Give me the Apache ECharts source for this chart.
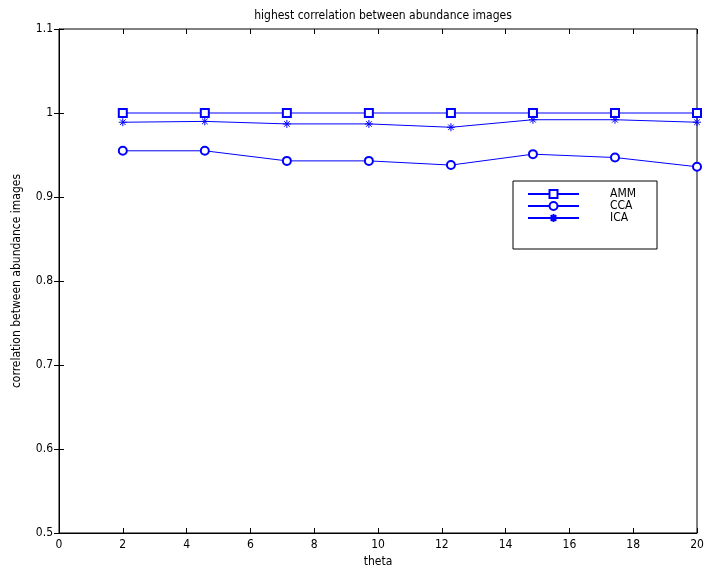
<!DOCTYPE html>
<html><head><meta charset="utf-8">
<script src="https://cdn.jsdelivr.net/npm/echarts@6/dist/echarts.min.js"></script>
<style>html,body{margin:0;padding:0;background:#fff}#c{width:707px;height:576px}</style>
</head><body><div id="c"></div>
<script>
const theta = [2, 4.571, 7.143, 9.714, 12.286, 14.857, 17.429, 20];
const amm = [1.0, 1.0, 1.0, 1.0, 1.0, 1.0, 1.0, 1.0];
const cca = [0.955, 0.955, 0.943, 0.943, 0.938, 0.951, 0.947, 0.936];
const ica = [0.989, 0.990, 0.987, 0.987, 0.983, 0.992, 0.992, 0.989];
const seriesNames = ['AMM', 'CCA', 'ICA'];
const titleText = 'highest correlation between abundance images';
const xName = 'theta';
const yName = 'correlation between abundance images';

const FONT = "'Liberation Sans Narrow','DejaVu Sans Condensed','Liberation Sans',sans-serif";
const BLUE = '#0000ff';
const star = 'path://M5 0 L5 10 M0 5 L10 5 M1.5 1.5 L8.5 8.5 M8.5 1.5 L1.5 8.5';
const pair = (xs, ys) => xs.map((x, i) => [x, ys[i]]);
const chart = echarts.init(document.getElementById('c'), null, {renderer: 'canvas'});
const tickStyle = {show: true, inside: true, length: 5, lineStyle: {color: '#000'}};
const mk = (name, data, symbol, size) => ({
  name, type: 'line', data, symbol, symbolSize: size, showAllSymbol: true,
  lineStyle: {color: BLUE, width: 1},
  itemStyle: {color: BLUE, borderColor: BLUE, borderWidth: 1},
  emphasis: {disabled: true}, animation: false
});
chart.setOption({
  animation: false,
  title: {text: titleText, left: 378, top: 5, textAlign: 'center',
    textStyle: {fontFamily: FONT, fontSize: 12, fontWeight: 'normal', color: '#000'}},
  grid: {left: 59, right: 10, top: 29, bottom: 43, show: true, borderColor: '#000', borderWidth: 1},
  legend: {
    data: seriesNames, orient: 'vertical', left: 513, top: 181,
    itemWidth: 51, itemHeight: 10, itemGap: 0,
    padding: [7, 21, 25, 14],
    borderColor: '#000', borderWidth: 1, backgroundColor: '#fff',
    textStyle: {fontFamily: FONT, fontSize: 12, lineHeight: 10, color: '#000', padding: [0, 0, 0, 26]}
  },
  xAxis: [{
    type: 'value', min: 0, max: 20, interval: 2,
    name: xName, nameLocation: 'middle', nameGap: 23,
    nameTextStyle: {fontFamily: FONT, fontSize: 12, color: '#000'},
    axisLine: {lineStyle: {color: '#000'}}, axisTick: tickStyle,
    axisLabel: {fontFamily: FONT, fontSize: 12, color: '#000', margin: 6},
    splitLine: {show: false}
  }, {
    type: 'value', min: 0, max: 20, interval: 2, position: 'top',
    axisLine: {show: false}, axisTick: tickStyle, axisLabel: {show: false}, splitLine: {show: false}
  }],
  yAxis: [{
    type: 'value', min: 0.5, max: 1.1, interval: 0.1,
    name: yName, nameLocation: 'middle', nameGap: 36,
    nameTextStyle: {fontFamily: FONT, fontSize: 12, color: '#000'},
    axisLine: {lineStyle: {color: '#000'}}, axisTick: tickStyle,
    axisLabel: {fontFamily: FONT, fontSize: 12, color: '#000', margin: 6,
      formatter: v => String(Math.round(v * 10) / 10)},
    splitLine: {show: false}
  }, {
    type: 'value', min: 0.5, max: 1.1, interval: 0.1, position: 'right',
    axisLine: {show: false}, axisTick: tickStyle, axisLabel: {show: false}, splitLine: {show: false}
  }],
  series: [
    mk(seriesNames[0], pair(theta, amm), 'emptyRect', 8),
    mk(seriesNames[1], pair(theta, cca), 'emptyCircle', 8),
    mk(seriesNames[2], pair(theta, ica), star, 8)
  ]
});
</script></body></html>
